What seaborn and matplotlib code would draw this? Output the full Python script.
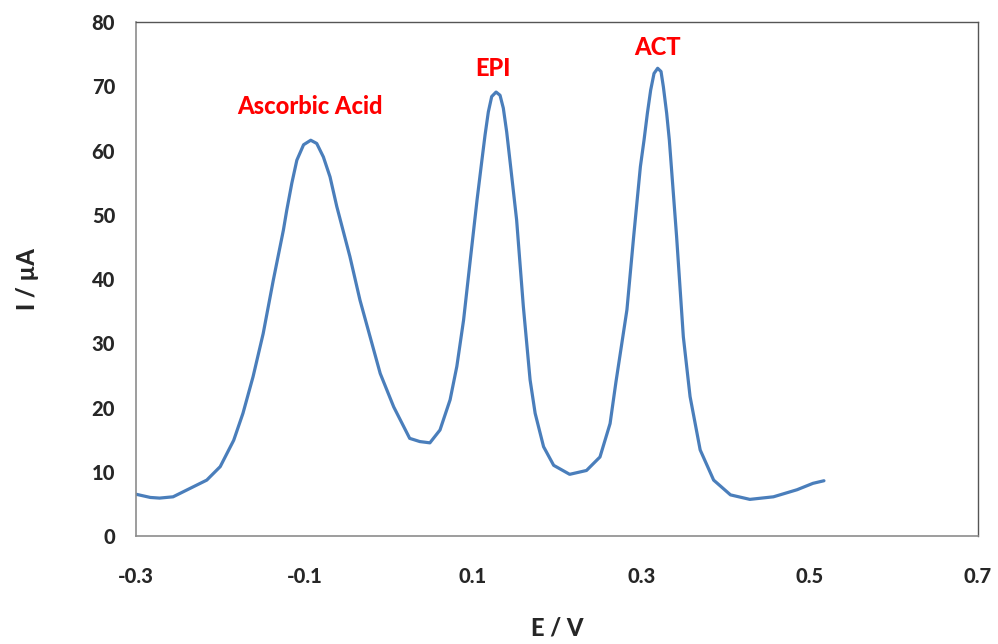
import numpy as np
import pandas as pd
import matplotlib
matplotlib.use("Agg")
import matplotlib.pyplot as plt
import seaborn as sns

# potential (V) and current (uA)
potential = [-0.300, -0.283, -0.272, -0.256, -0.236, -0.216, -0.200, -0.184,
             -0.173, -0.161, -0.149, -0.137, -0.125, -0.121, -0.115, -0.109,
             -0.101, -0.0925, -0.0854, -0.0775, -0.0696, -0.0616, -0.046,
             -0.034, -0.022, -0.010, 0.006, 0.025, 0.037, 0.049, 0.061, 0.073,
             0.081, 0.089, 0.097, 0.105, 0.1106, 0.1145, 0.1184, 0.1224,
             0.1276, 0.1323, 0.1362, 0.1402, 0.1442, 0.152, 0.160, 0.168,
             0.174, 0.184, 0.196, 0.215, 0.235, 0.251, 0.263, 0.270,
             0.283, 0.291, 0.299, 0.3033, 0.3073, 0.3112, 0.3152, 0.3195,
             0.3235, 0.3263, 0.3302, 0.3334, 0.342, 0.350, 0.358, 0.370,
             0.386, 0.406, 0.429, 0.457, 0.485, 0.504, 0.517]
current = [6.5, 6.0, 5.9, 6.1, 7.4, 8.7, 10.8, 14.9,
           19.1, 24.8, 31.5, 39.8, 47.6, 50.7, 54.9, 58.5,
           60.9, 61.6, 61.1, 59.0, 55.9, 51.3, 43.5,
           36.7, 31.0, 25.3, 20.1, 15.2, 14.7, 14.5, 16.5, 21.2,
           26.4, 33.6, 43.0, 52.3, 58.3, 62.4, 66.0, 68.4,
           69.1, 68.6, 66.6, 62.9, 58.3, 49.2, 35.7, 24.3,
           19.1, 13.9, 11.0, 9.6, 10.2, 12.3, 17.5, 24.0,
           35.2, 46.6, 57.5, 61.6, 65.8, 69.4, 72.0, 72.8,
           72.3, 69.9, 65.8, 61.6, 46.6, 31.0, 21.7, 13.4,
           8.7, 6.4, 5.7, 6.1, 7.2, 8.2, 8.6]

peak_names = ["Ascorbic Acid", "EPI", "ACT"]
peak_label_x = [-0.094, 0.124, 0.319]
peak_label_y = [66.8, 72.7, 76.1]

x_ticks = [-0.3, -0.1, 0.1, 0.3, 0.5, 0.7]
y_ticks = [0, 10, 20, 30, 40, 50, 60, 70, 80]

df = pd.DataFrame({"E": potential, "I": current})

sns.set_style("white")
plt.rcParams["font.family"] = ["Lato", "DejaVu Sans"]

fig = plt.figure(figsize=(9.98, 6.44), dpi=100)
ax = fig.add_axes([0.1363, 0.1677, 0.8437, 0.7981])

sns.lineplot(data=df, x="E", y="I", ax=ax, color="#4a7ebb", linewidth=2.3,
             sort=False, estimator=None)
ax.lines[0].set_solid_joinstyle("round")

for name, lx, ly in zip(peak_names, peak_label_x, peak_label_y):
    ax.text(lx, ly, name, color="red", fontsize=17, fontweight="black",
            ha="center", va="center")

ax.set_xlim(-0.3, 0.7)
ax.set_ylim(0, 80)
ax.set_xticks(x_ticks)
ax.set_xticklabels([f"{t:.1f}" for t in x_ticks])
ax.set_yticks(y_ticks)
ax.tick_params(axis="both", direction="out", length=6, width=1, color="#8c8c8c",
               labelsize=14.5)
ax.tick_params(axis="x", pad=16)
ax.tick_params(axis="y", pad=9)
for lbl in ax.get_xticklabels() + ax.get_yticklabels():
    lbl.set_fontweight("black")

for side in ["left", "bottom"]:
    ax.spines[side].set_color("#8c8c8c")
    ax.spines[side].set_linewidth(1.2)
for side in ["top", "right"]:
    ax.spines[side].set_color("#555555")
    ax.spines[side].set_linewidth(1.0)

ax.set_xlabel("E / V", fontsize=17, fontweight="black", labelpad=22)
ax.set_ylabel("I / µA", fontsize=17, fontweight="black", labelpad=38)

fig.savefig("out.png", dpi=100)
